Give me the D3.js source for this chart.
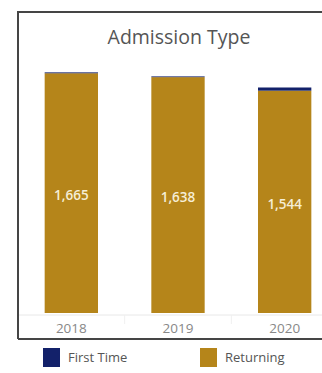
<!DOCTYPE html>
<html>
<head>
<meta charset="utf-8">
<script src="https://cdn.jsdelivr.net/npm/d3@7"></script>
<style>
  body { margin: 0; background: #fff; }
  svg { display: block; font-family: "Open Sans", sans-serif; }
</style>
</head>
<body>
<svg id="chart" width="322" height="373"></svg>
<script>
// Data
var years = ["2018", "2019", "2020"];
var firstTime = [6, 5, 22];
var returning = [1665, 1638, 1544];
var seriesNames = ["First Time", "Returning"];
var seriesColors = ["#13216a", "#b5851a"];

const width = 322;
const height = 373;

var svg = d3.select("#chart");

// frame round the chart (no right edge visible)
svg.append("path")
    .attr("d", "M18,339 L18,12 L324,12 M18,339 L324,339")
    .attr("fill", "none")
    .attr("stroke", "#454545")
    .attr("stroke-width", 2);

// title
svg.append("text")
    .attr("x", 179)
    .attr("y", 44)
    .attr("text-anchor", "middle")
    .style("font-size", "19.5px")
    .style("fill", "#555")
    .text("Admission Type");

var xScale = d3.scaleBand()
    .domain(years)
    .range([18, 338])
    .paddingInner(0.5)
    .paddingOuter(0.25);

var yScale = d3.scaleLinear()
    .domain([0, 1750])
    .range([313, 61]);

// stacked data: returning at the bottom, first time on top
var rows = years.map(function(y, i) {
    return { year: y, returning: returning[i], first: firstTime[i] };
});
var stack = d3.stack().keys(["returning", "first"]);
var layers = stack(rows);

// baseline grid line
svg.append("line")
    .attr("x1", 19).attr("x2", 322)
    .attr("y1", 315).attr("y2", 315)
    .attr("stroke", "#e8e8e8");

// faint separators between years
svg.selectAll(".sep")
    .data(years.slice(1))
    .enter()
    .append("line")
    .attr("class", "sep")
    .attr("x1", function(d) { return xScale(d) - xScale.step() * xScale.paddingInner() / 2; })
    .attr("x2", function(d) { return xScale(d) - xScale.step() * xScale.paddingInner() / 2; })
    .attr("y1", 315).attr("y2", 324)
    .attr("stroke", "#f0f0f0");

svg.selectAll(".layer")
    .data(layers)
    .enter()
    .append("g")
    .attr("class", "layer")
    .attr("fill", function(d, i) { return i === 0 ? seriesColors[1] : seriesColors[0]; })
    .selectAll("rect")
    .data(function(d) { return d; })
    .enter()
    .append("rect")
    .attr("x", function(d) { return xScale(d.data.year); })
    .attr("width", xScale.bandwidth())
    .attr("y", function(d) { return yScale(d[1]); })
    .attr("height", function(d) { return yScale(d[0]) - yScale(d[1]); });

// value labels in the middle of the returning bars
svg.selectAll(".val")
    .data(rows)
    .enter()
    .append("text")
    .attr("class", "val")
    .attr("x", function(d) { return xScale(d.year) + xScale.bandwidth() / 2; })
    .attr("y", function(d) { return (yScale(0) + yScale(d.returning)) / 2 + 7; })
    .attr("text-anchor", "middle")
    .style("font-size", "13.5px")
    .style("font-weight", "600")
    .style("fill", "#f5eed6")
    .text(function(d) { return d3.format(",")(d.returning); });

// year axis
var xAxis = d3.axisBottom(xScale).tickSize(0).tickPadding(8);
var axisG = svg.append("g")
    .attr("transform", "translate(0,315)")
    .call(xAxis);
axisG.select(".domain").remove();
axisG.selectAll("text")
    .style("font-size", "13.5px")
    .style("font-family", "Open Sans, sans-serif")
    .style("fill", "#888");

// legend
var legendX = [43, 200];
var legend = svg.selectAll(".legend")
    .data(seriesNames)
    .enter()
    .append("g")
    .attr("class", "legend")
    .attr("transform", function(d, i) { return "translate(" + legendX[i] + ",348)"; });

legend.append("rect")
    .attr("width", 17)
    .attr("height", 19)
    .attr("fill", function(d, i) { return seriesColors[i]; });

legend.append("text")
    .attr("x", 25)
    .attr("y", 14)
    .style("font-size", "13px")
    .style("fill", "#555")
    .text(function(d) { return d; });
</script>
</body>
</html>
